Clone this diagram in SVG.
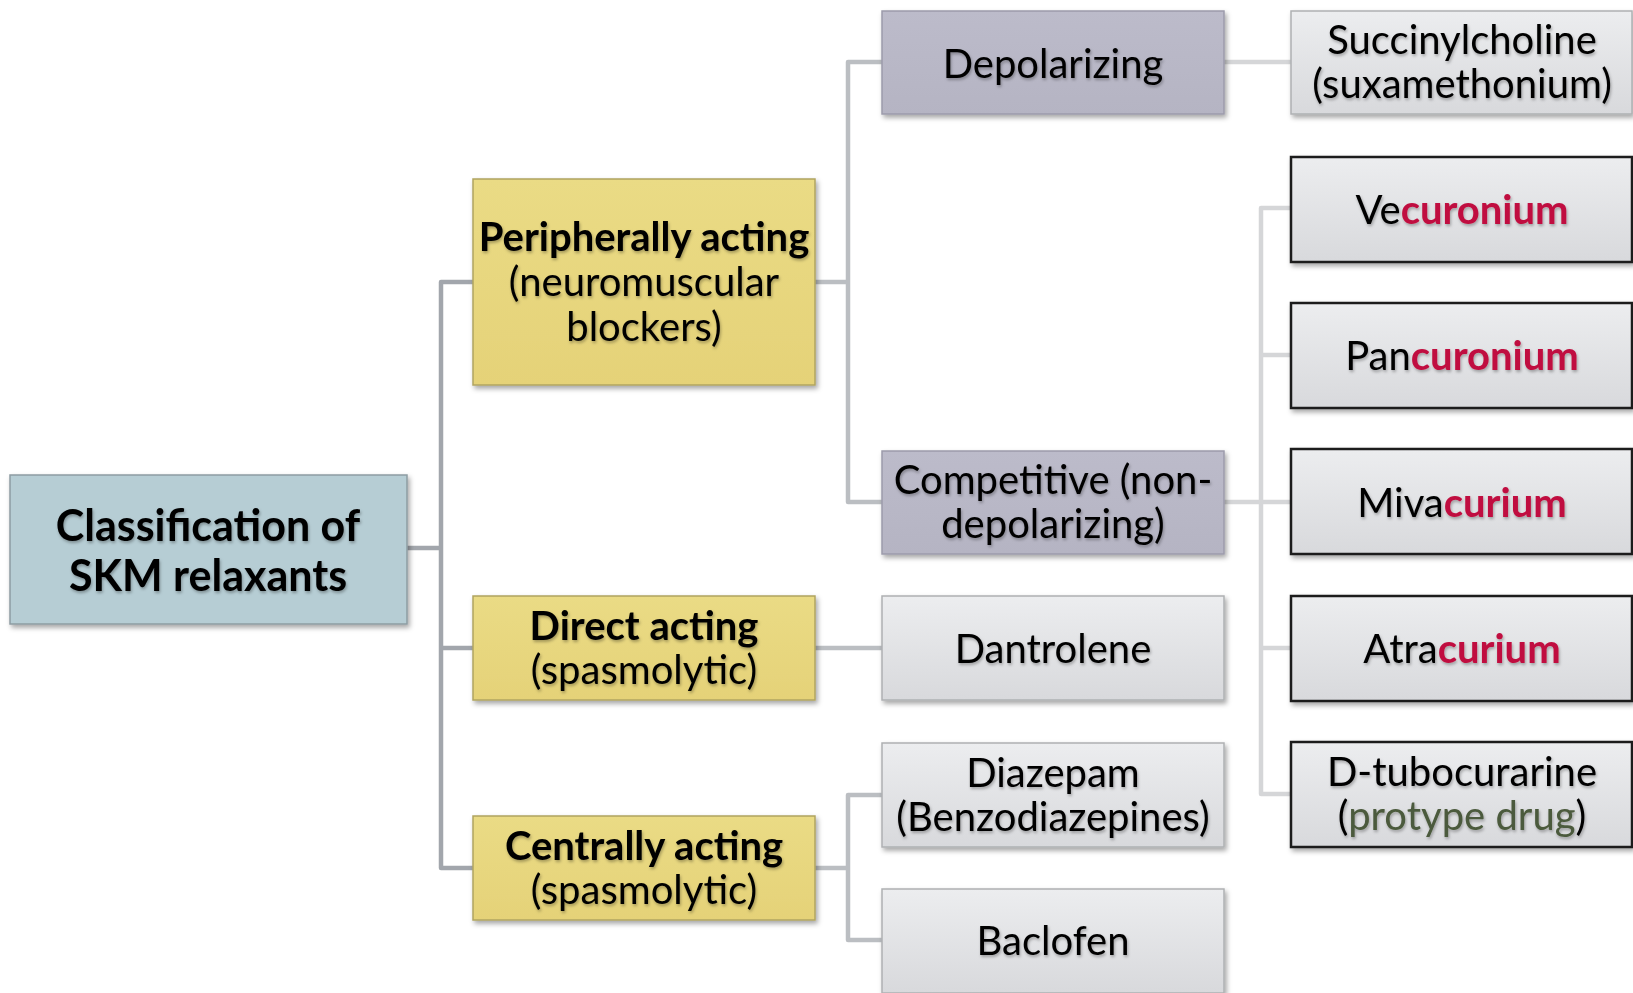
<svg xmlns="http://www.w3.org/2000/svg" width="1633" height="993" viewBox="0 0 1633 993">
<defs>
<filter id="sh" x="-10%" y="-10%" width="130%" height="140%">
<feDropShadow dx="2" dy="3" stdDeviation="2.5" flood-color="#000" flood-opacity="0.35"/>
</filter>
<filter id="ts" x="-5%" y="-20%" width="110%" height="150%">
<feDropShadow dx="1" dy="2" stdDeviation="1.5" flood-color="#000" flood-opacity="0.3"/>
</filter>
<linearGradient id="gr" x1="0" y1="0" x2="0" y2="1">
<stop offset="0" stop-color="#ecedef"/>
<stop offset="1" stop-color="#d8d9dc"/>
</linearGradient>
<linearGradient id="gy" x1="0" y1="0" x2="0" y2="1">
<stop offset="0" stop-color="#eadb85"/>
<stop offset="1" stop-color="#e5d278"/>
</linearGradient>
<linearGradient id="gp" x1="0" y1="0" x2="0" y2="1">
<stop offset="0" stop-color="#bcbbca"/>
<stop offset="1" stop-color="#b5b4c3"/>
</linearGradient>
</defs>
<style>
text{font-family:Lato,"Liberation Sans",sans-serif;text-anchor:middle;fill:#000;}
.t{font-size:40px;filter:url(#ts);}
.b{font-weight:bold;}
.root{font-size:43px;font-weight:bold;filter:url(#ts);}
.cr{fill:#c0103f;font-weight:bold;}
.ol{fill:#4b5a3c;}
.n rect{filter:url(#sh);}
.blue{fill:#b6cdd4;stroke:#8d9ca2;stroke-width:1.5;}
.yel{fill:url(#gy);stroke:#b0a460;stroke-width:1.5;}
.pur{fill:url(#gp);stroke:#9c9bab;stroke-width:1.5;}
.gry{fill:url(#gr);stroke:#aeb0b3;stroke-width:1.5;}
.drk{fill:url(#gr);stroke:#1e1e1e;stroke-width:2.5;}
.c1{fill:none;stroke:#a2a6ac;stroke-width:4.5;stroke-linejoin:round;}
.c2{fill:none;stroke:#bbbec2;stroke-width:4.5;stroke-linejoin:round;}
.c3{fill:none;stroke:#d5d6d8;stroke-width:4.5;stroke-linejoin:round;}
</style>
<g id="connectors">
<path class="c1" d="M407 548 H441 M473 282 H441 V868 H473 M441 648 H473"/>
<path class="c2" d="M882 62 H848 V502 H882 M815 282 H848"/>
<path class="c2" d="M815 648 H882"/>
<path class="c2" d="M882 795 H848 V940 H882 M815 868 H848"/>
<path class="c3" d="M1224 62 H1291"/>
<path class="c3" d="M1291 208 H1261 V794 H1291 M1224 502 H1291 M1261 355 H1291 M1261 648 H1291"/>
</g>
<g id="root" class="n"><rect class="blue" x="10" y="475" width="397" height="149"/>
<text class="root" x="208" y="541">Classification of</text>
<text class="root" x="208" y="591">SKM relaxants</text></g>
<g id="peripheral" class="n"><rect class="yel" x="473" y="179" width="342" height="206"/>
<text class="t b" x="644" y="251">Peripherally acting</text>
<text class="t" x="644" y="296">(neuromuscular</text>
<text class="t" x="644" y="341">blockers)</text></g>
<g id="direct" class="n"><rect class="yel" x="473" y="596" width="342" height="104"/>
<text class="t b" x="644" y="640">Direct acting</text>
<text class="t" x="644" y="684">(spasmolytic)</text></g>
<g id="central" class="n"><rect class="yel" x="473" y="816" width="342" height="104"/>
<text class="t b" x="644" y="860">Centrally acting</text>
<text class="t" x="644" y="904">(spasmolytic)</text></g>
<g id="depolarizing" class="n"><rect class="pur" x="882" y="11" width="342" height="103"/>
<text class="t" x="1053" y="78">Depolarizing</text></g>
<g id="competitive" class="n"><rect class="pur" x="882" y="451" width="342" height="103"/>
<text class="t" x="1053" y="494">Competitive (non-</text>
<text class="t" x="1053" y="538">depolarizing)</text></g>
<g id="dantrolene" class="n"><rect class="gry" x="882" y="596" width="342" height="104"/>
<text class="t" x="1053" y="663">Dantrolene</text></g>
<g id="diazepam" class="n"><rect class="gry" x="882" y="743" width="342" height="104"/>
<text class="t" x="1053" y="787">Diazepam</text>
<text class="t" x="1053" y="831">(Benzodiazepines)</text></g>
<g id="baclofen" class="n"><rect class="gry" x="882" y="889" width="342" height="104"/>
<text class="t" x="1053" y="955">Baclofen</text></g>
<g id="succinylcholine" class="n"><rect class="gry" x="1291" y="11" width="341" height="103"/>
<text class="t" x="1462" y="54">Succinylcholine</text>
<text class="t" x="1462" y="98">(suxamethonium)</text></g>
<g id="vecuronium" class="n"><rect class="drk" x="1291" y="157" width="341" height="105"/>
<text class="t" x="1462" y="224">Ve<tspan class="cr">curonium</tspan></text></g>
<g id="pancuronium" class="n"><rect class="drk" x="1291" y="303" width="341" height="105"/>
<text class="t" x="1462" y="370">Pan<tspan class="cr">curonium</tspan></text></g>
<g id="mivacurium" class="n"><rect class="drk" x="1291" y="449" width="341" height="105"/>
<text class="t" x="1462" y="517">Miva<tspan class="cr">curium</tspan></text></g>
<g id="atracurium" class="n"><rect class="drk" x="1291" y="596" width="341" height="105"/>
<text class="t" x="1462" y="663">Atra<tspan class="cr">curium</tspan></text></g>
<g id="dtubocurarine" class="n"><rect class="drk" x="1291" y="742" width="341" height="105"/>
<text class="t" x="1462" y="786">D-tubocurarine</text>
<text class="t" x="1462" y="830">(<tspan class="ol">protype drug</tspan>)</text></g>
</svg>
